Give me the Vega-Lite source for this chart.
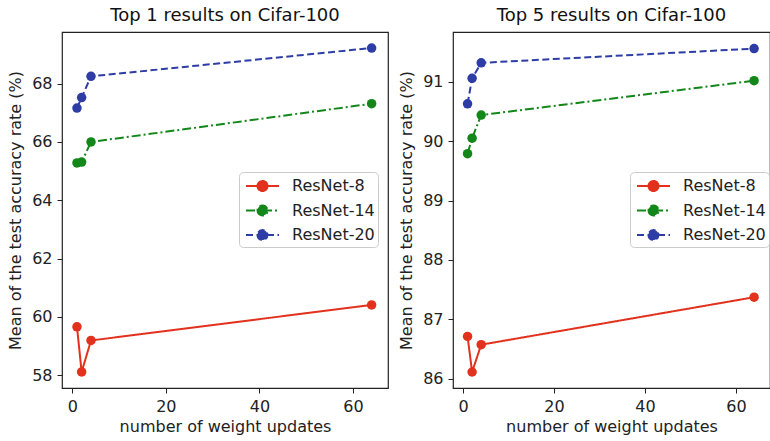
{
  "$schema": "https://vega.github.io/schema/vega-lite/v6.json",
  "background": "white",
  "padding": {"left": 7, "top": 6, "right": 0, "bottom": 0},
  "autosize": {"type": "pad"},
  "spacing": 9,
  "datasets": {
    "top1": [
      {"updates": 1, "acc": 59.66, "model": "ResNet-8"},
      {"updates": 2, "acc": 58.11, "model": "ResNet-8"},
      {"updates": 4, "acc": 59.19, "model": "ResNet-8"},
      {"updates": 64, "acc": 60.41, "model": "ResNet-8"},
      {"updates": 1, "acc": 65.28, "model": "ResNet-14"},
      {"updates": 2, "acc": 65.31, "model": "ResNet-14"},
      {"updates": 4, "acc": 66.0, "model": "ResNet-14"},
      {"updates": 64, "acc": 67.31, "model": "ResNet-14"},
      {"updates": 1, "acc": 67.16, "model": "ResNet-20"},
      {"updates": 2, "acc": 67.52, "model": "ResNet-20"},
      {"updates": 4, "acc": 68.25, "model": "ResNet-20"},
      {"updates": 64, "acc": 69.22, "model": "ResNet-20"}
    ],
    "top5": [
      {"updates": 1, "acc": 86.71, "model": "ResNet-8"},
      {"updates": 2, "acc": 86.11, "model": "ResNet-8"},
      {"updates": 4, "acc": 86.57, "model": "ResNet-8"},
      {"updates": 64, "acc": 87.37, "model": "ResNet-8"},
      {"updates": 1, "acc": 89.79, "model": "ResNet-14"},
      {"updates": 2, "acc": 90.05, "model": "ResNet-14"},
      {"updates": 4, "acc": 90.44, "model": "ResNet-14"},
      {"updates": 64, "acc": 91.02, "model": "ResNet-14"},
      {"updates": 1, "acc": 90.63, "model": "ResNet-20"},
      {"updates": 2, "acc": 91.06, "model": "ResNet-20"},
      {"updates": 4, "acc": 91.32, "model": "ResNet-20"},
      {"updates": 64, "acc": 91.56, "model": "ResNet-20"}
    ]
  },
  "config": {
    "font": "DejaVu Sans",
    "view": {"stroke": "#222", "strokeWidth": 1.2},
    "axis": {
      "grid": false,
      "domain": false,
      "tickColor": "#222",
      "tickSize": 5,
      "tickWidth": 1,
      "labelFontSize": 16,
      "labelColor": "#222",
      "labelPadding": 5,
      "titleFontSize": 16,
      "titleFontWeight": "normal",
      "titleColor": "#222"
    },
    "axisY": {"titlePadding": 8},
    "axisX": {"titlePadding": 4},
    "title": {"fontSize": 18, "fontWeight": "normal", "color": "#111", "anchor": "middle", "offset": 7},
    "legend": {
      "orient": "none",
      "legendX": 177,
      "legendY": 140,
      "padding": 3,
      "strokeColor": "#cccccc",
      "fillColor": "white",
      "cornerRadius": 4,
      "labelFontSize": 16,
      "labelColor": "#222",
      "labelOffset": 28,
      "rowPadding": 4.5,
      "symbolSize": 400,
      "symbolStrokeWidth": 2,
      "symbolType": "M-0.7,0L2.6,0M0.45,0A0.5,0.5,0,1,0,1.45,0A0.5,0.5,0,1,0,0.45,0Z"
    }
  },
  "resolve": {"legend": {"color": "independent", "strokeDash": "independent"}},
  "hconcat": [
    {
      "width": 326,
      "height": 356,
      "title": "Top 1 results on Cifar-100",
      "data": {"name": "top1"},
      "encoding": {
        "x": {"field": "updates", "type": "quantitative", "scale": {"domain": [-2.2, 67.5], "nice": false, "zero": false}, "axis": {"values": [0, 20, 40, 60], "title": "number of weight updates"}},
        "y": {"field": "acc", "type": "quantitative", "scale": {"domain": [57.56, 69.77], "nice": false, "zero": false}, "axis": {"values": [58, 60, 62, 64, 66, 68], "title": "Mean of the test accuracy rate (%)"}},
        "color": {"field": "model", "type": "nominal", "scale": {"domain": ["ResNet-8", "ResNet-14", "ResNet-20"], "range": ["#e2311d", "#13871a", "#2e3da5"]}, "legend": {"title": null, "encode": {"symbols": {"update": {"fill": {"scale": "color", "field": "value"}}}}}},
        "strokeDash": {"field": "model", "type": "nominal", "scale": {"domain": ["ResNet-8", "ResNet-14", "ResNet-20"], "range": [[1, 0], [9, 3, 2, 3], [7, 3.5]]}, "legend": {"title": null}}
      },
      "layer": [
        {"mark": {"type": "line", "strokeWidth": 2}},
        {"mark": {"type": "point", "filled": true, "size": 90, "opacity": 1}}
      ]
    },
    {
      "width": 317,
      "height": 356,
      "title": "Top 5 results on Cifar-100",
      "data": {"name": "top5"},
      "encoding": {
        "x": {"field": "updates", "type": "quantitative", "scale": {"domain": [-2.2, 67.5], "nice": false, "zero": false}, "axis": {"values": [0, 20, 40, 60], "title": "number of weight updates"}},
        "y": {"field": "acc", "type": "quantitative", "scale": {"domain": [85.84, 91.84], "nice": false, "zero": false}, "axis": {"values": [86, 87, 88, 89, 90, 91], "title": "Mean of the test accuracy rate (%)"}},
        "color": {"field": "model", "type": "nominal", "scale": {"domain": ["ResNet-8", "ResNet-14", "ResNet-20"], "range": ["#e2311d", "#13871a", "#2e3da5"]}, "legend": {"title": null, "encode": {"symbols": {"update": {"fill": {"scale": "color", "field": "value"}}}}}},
        "strokeDash": {"field": "model", "type": "nominal", "scale": {"domain": ["ResNet-8", "ResNet-14", "ResNet-20"], "range": [[1, 0], [9, 3, 2, 3], [7, 3.5]]}, "legend": {"title": null}}
      },
      "layer": [
        {"mark": {"type": "line", "strokeWidth": 2}},
        {"mark": {"type": "point", "filled": true, "size": 90, "opacity": 1}}
      ]
    }
  ]
}
